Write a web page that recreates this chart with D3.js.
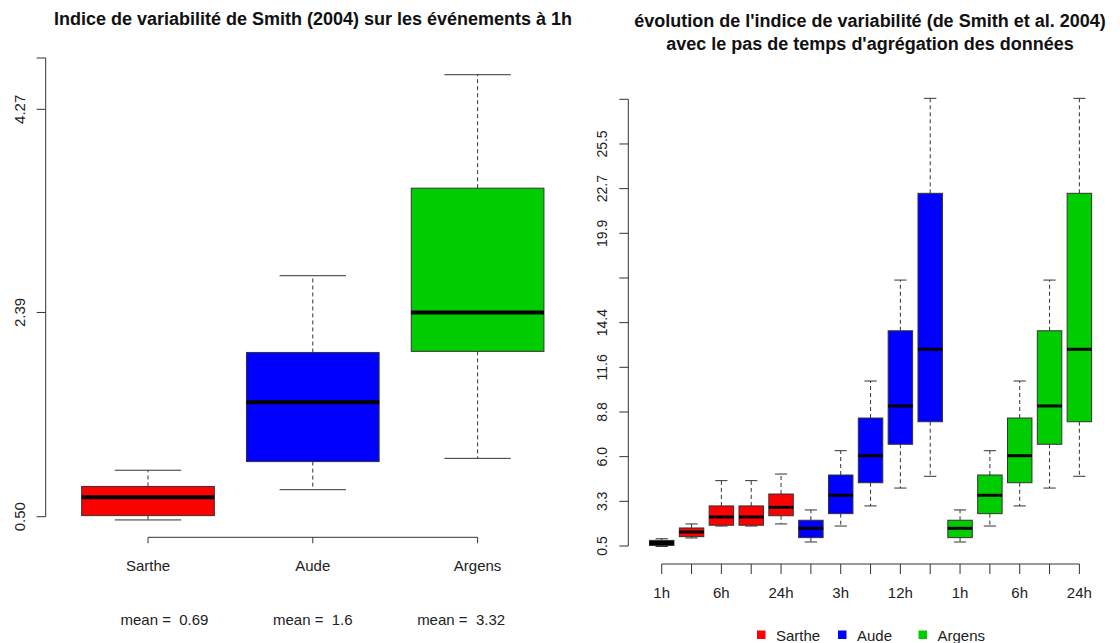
<!DOCTYPE html>
<html>
<head>
<meta charset="utf-8">
<script src="https://cdn.jsdelivr.net/npm/d3@7"></script>
<style>
  body { margin: 0; background: #ffffff; }
  svg { display: block; font-family: "Liberation Sans", Arial, sans-serif; }
</style>
</head>
<body>
<svg id="chart" width="1120" height="643"></svg>
<script>
// ---- left panel data : Smith index, 1h events
var leftRivers = ["Sarthe", "Aude", "Argens"]
var leftColors = ["#ff0000", "#0000ff", "#00cd00"]
var leftLow = [0.47, 0.75, 1.04]
var leftQ1 = [0.51, 1.01, 2.03]
var leftMedian = [0.68, 1.56, 2.39]
var leftQ3 = [0.78, 2.02, 3.54]
var leftHigh = [0.93, 2.73, 4.59]
var leftMeans = ["0.69", "1.6", "3.32"]
var leftMeanAt = [1.1, 2.0, 2.9]
var leftTicks = [0.50, 2.39, 4.27, 4.745]
var leftTickLabels = ["0.50", "2.39", "4.27", ""]

// ---- right panel data : index vs aggregation step
var rightTickLabelsX = ["1h", "", "6h", "", "24h", "", "3h", "", "12h", "", "1h", "", "6h", "", "24h"]
var rightFill = ["#000000", "#ff0000", "#ff0000", "#ff0000", "#ff0000",
                 "#0000ff", "#0000ff", "#0000ff", "#0000ff", "#0000ff",
                 "#00cd00", "#00cd00", "#00cd00", "#00cd00", "#00cd00"]
var rightLow = [0.47, 1.00, 1.74, 1.74, 1.87, 0.75, 1.74, 2.99, 4.10, 4.83, 0.75, 1.74, 2.99, 4.10, 4.83]
var rightQ1 = [0.53, 1.08, 1.79, 1.79, 2.38, 1.02, 2.51, 4.43, 6.82, 8.22, 1.02, 2.51, 4.43, 6.82, 8.22]
var rightMedian = [0.69, 1.37, 2.30, 2.30, 2.90, 1.60, 3.65, 6.11, 9.20, 12.72, 1.60, 3.65, 6.11, 9.20, 12.72]
var rightQ3 = [0.85, 1.62, 2.99, 2.99, 3.73, 2.10, 4.91, 8.45, 13.87, 22.41, 2.10, 4.91, 8.45, 13.87, 22.41]
var rightHigh = [0.95, 1.87, 4.56, 4.56, 4.97, 2.74, 6.42, 10.75, 17.02, 28.31, 2.74, 6.42, 10.75, 17.02, 28.31]
var rightTicksY = [0.5, 3.275, 6.05, 8.825, 11.6, 14.375, 17.15, 19.925, 22.7, 25.475, 28.25]
var rightTickLabelsY = ["0.5", "3.3", "6.0", "8.8", "11.6", "14.4", "", "19.9", "22.7", "25.5", ""]
var legendNames = ["Sarthe", "Aude", "Argens"]
var legendColors = ["#ff0000", "#0000ff", "#00cd00"]

var svg = d3.select("#chart")
var ink = "#333"

function drawBoxes(g, data, x, y, halfW, medWidth) {
    var boxes = g.selectAll("g.box").data(data).enter().append("g").attr("class", "box")
    // dashed whiskers
    boxes.append("line")
         .attr("x1", d => x(d.pos)).attr("x2", d => x(d.pos))
         .attr("y1", d => y(d.q3)).attr("y2", d => y(d.high))
         .style("stroke", ink).style("stroke-dasharray", "4,3")
    boxes.append("line")
         .attr("x1", d => x(d.pos)).attr("x2", d => x(d.pos))
         .attr("y1", d => y(d.q1)).attr("y2", d => y(d.low))
         .style("stroke", ink).style("stroke-dasharray", "4,3")
    // caps
    boxes.selectAll("line.cap").data(d => [d.low, d.high].map(v => ({pos: d.pos, v: v})))
         .enter().append("line").attr("class", "cap")
         .attr("x1", d => x(d.pos - halfW / 2)).attr("x2", d => x(d.pos + halfW / 2))
         .attr("y1", d => y(d.v)).attr("y2", d => y(d.v))
         .style("stroke", ink)
    boxes.append("rect")
         .attr("x", d => x(d.pos - halfW)).attr("width", d => x(d.pos + halfW) - x(d.pos - halfW))
         .attr("y", d => y(d.q3)).attr("height", d => y(d.q1) - y(d.q3))
         .style("fill", d => d.color).style("stroke", ink).style("stroke-width", 1)
    boxes.append("line")
         .attr("x1", d => x(d.pos - halfW)).attr("x2", d => x(d.pos + halfW))
         .attr("y1", d => y(d.median)).attr("y2", d => y(d.median))
         .style("stroke", "black").style("stroke-width", medWidth)
}

// ================= LEFT PANEL =================
var xLeft = d3.scaleLinear().domain([0.5, 3.5]).range([65.6, 560])
var yLeft = d3.scaleLinear().domain([0.5, 4.27]).range([516.7, 109.3])

var leftData = leftRivers.map((r, i) => ({
    pos: i + 1, color: leftColors[i], low: leftLow[i], q1: leftQ1[i],
    median: leftMedian[i], q3: leftQ3[i], high: leftHigh[i]
}))

var leftG = svg.append("g")
drawBoxes(leftG, leftData, xLeft, yLeft, 0.4025, 4)

// y axis
var yAxisL = svg.append("g").attr("transform", "translate(45.7,0)")
yAxisL.append("line").attr("x1", 0).attr("x2", 0)
      .attr("y1", yLeft(d3.min(leftTicks))).attr("y2", yLeft(d3.max(leftTicks)))
      .style("stroke", ink)
yAxisL.selectAll("line.tick").data(leftTicks).enter().append("line")
      .attr("x1", -9).attr("x2", 0).attr("y1", d => yLeft(d)).attr("y2", d => yLeft(d))
      .style("stroke", ink)
yAxisL.selectAll("text").data(leftTicks).enter().append("text")
      .attr("transform", d => "translate(-21," + yLeft(d) + ") rotate(-90)")
      .attr("text-anchor", "middle")
      .style("font-size", "15px").style("fill", "#222")
      .text((d, i) => leftTickLabels[i])

// x axis
var xAxisL = svg.append("g").attr("transform", "translate(0,537.3)")
xAxisL.append("line").attr("x1", xLeft(1)).attr("x2", xLeft(3)).style("stroke", ink)
xAxisL.selectAll("line.tick").data(leftRivers).enter().append("line")
      .attr("x1", (d, i) => xLeft(i + 1)).attr("x2", (d, i) => xLeft(i + 1))
      .attr("y1", 0).attr("y2", 6).style("stroke", ink)
xAxisL.selectAll("text.name").data(leftRivers).enter().append("text")
      .attr("x", (d, i) => xLeft(i + 1)).attr("y", 34)
      .attr("text-anchor", "middle").style("font-size", "15px").style("fill", "#222")
      .text(d => d)
xAxisL.selectAll("text.mean").data(leftMeans).enter().append("text")
      .attr("x", (d, i) => xLeft(leftMeanAt[i])).attr("y", 88)
      .attr("text-anchor", "middle").style("font-size", "15px").style("fill", "#222")
      .style("white-space", "pre").attr("xml:space", "preserve")
      .text(d => "mean =  " + d)

svg.append("text").attr("x", 313).attr("y", 25).attr("text-anchor", "middle")
   .style("font-size", "18px").style("font-weight", "bold").style("fill", "#111")
   .text("Indice de variabilité de Smith (2004) sur les événements à 1h")

// ================= RIGHT PANEL =================
var xRight = d3.scaleLinear().domain([0.5, 15.5]).range([646.8, 1094.3])
var yRight = d3.scaleLinear().domain([0.5, 28.25]).range([546, 99.3])

var rightData = rightLow.map((v, i) => ({
    pos: i + 1, color: rightFill[i], low: rightLow[i], q1: rightQ1[i],
    median: rightMedian[i], q3: rightQ3[i], high: rightHigh[i]
}))
var rightG = svg.append("g")
drawBoxes(rightG, rightData, xRight, yRight, 0.41, 3)

var yAxisR = svg.append("g").attr("transform", "translate(628.3,0)")
yAxisR.append("line").attr("x1", 0).attr("x2", 0)
      .attr("y1", yRight(rightTicksY[0])).attr("y2", yRight(rightTicksY[rightTicksY.length - 1]))
      .style("stroke", ink)
yAxisR.selectAll("line.tick").data(rightTicksY).enter().append("line")
      .attr("x1", -9).attr("x2", 0).attr("y1", d => yRight(d)).attr("y2", d => yRight(d))
      .style("stroke", ink)
yAxisR.selectAll("text").data(rightTicksY).enter().append("text")
      .attr("transform", d => "translate(-21," + yRight(d) + ") rotate(-90)")
      .attr("text-anchor", "middle")
      .style("font-size", "14px").style("fill", "#222")
      .text((d, i) => rightTickLabelsY[i])

var xAxisR = svg.append("g").attr("transform", "translate(0,564)")
xAxisR.append("line").attr("x1", xRight(1)).attr("x2", xRight(15)).style("stroke", ink)
xAxisR.selectAll("line.tick").data(rightTickLabelsX).enter().append("line")
      .attr("x1", (d, i) => xRight(i + 1)).attr("x2", (d, i) => xRight(i + 1))
      .attr("y1", 0).attr("y2", 10).style("stroke", ink)
xAxisR.selectAll("text").data(rightTickLabelsX).enter().append("text")
      .attr("x", (d, i) => xRight(i + 1)).attr("y", 34)
      .attr("text-anchor", "middle").style("font-size", "15px").style("fill", "#222")
      .text(d => d)

var titleR = svg.append("text").attr("x", 870).attr("text-anchor", "middle")
   .style("font-size", "18px").style("font-weight", "bold").style("fill", "#111")
titleR.append("tspan").attr("x", 870).attr("y", 27)
      .text("évolution de l'indice de variabilité (de Smith et al. 2004)")
titleR.append("tspan").attr("x", 870).attr("y", 50)
      .text("avec le pas de temps d'agrégation des données")

// legend
var legendX = [757, 838, 918.5]
var legend = svg.append("g").attr("transform", "translate(0,635)")
legend.selectAll("rect").data(legendNames).enter().append("rect")
      .attr("x", (d, i) => legendX[i]).attr("y", -4.5).attr("width", 8.5).attr("height", 8.5)
      .style("fill", (d, i) => legendColors[i])
legend.selectAll("text").data(legendNames).enter().append("text")
      .attr("x", (d, i) => legendX[i] + 19).attr("y", 5.5)
      .style("font-size", "15px").style("fill", "#222")
      .text(d => d)
</script>
</body>
</html>
